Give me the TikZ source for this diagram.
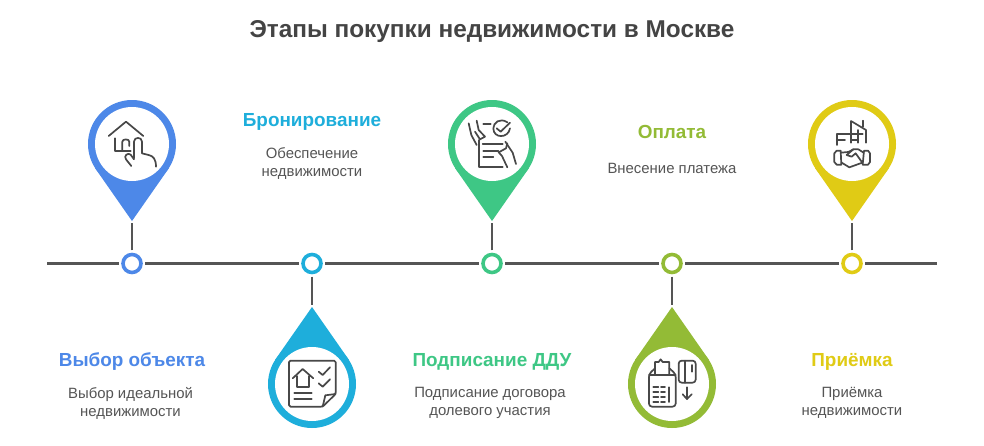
\documentclass[tikz,border=0pt]{standalone}
\usepackage{fontspec}
\setmainfont{Liberation Sans}
\definecolor{cblue}{HTML}{4D88E8}
\definecolor{ccyan}{HTML}{1EAEDB}
\definecolor{cgreen}{HTML}{3EC785}
\definecolor{colive}{HTML}{93BB36}
\definecolor{cyell}{HTML}{E0CB15}
\definecolor{cline}{HTML}{555555}
\definecolor{cicon}{HTML}{484848}
\definecolor{ctext}{HTML}{555555}
\definecolor{ctitle}{HTML}{444444}
\tikzset{
  dotmark/.style={circle,draw=#1,fill=white,line width=3.6pt,minimum size=18pt,inner sep=0pt,outer sep=4.2pt},
  axis/.style={draw=cline,line width=2.1pt},
  stem/.style={draw=cline,line width=2.1pt},
  head/.style={text=#1,font=\fontsize{18.9}{22}\selectfont\bfseries,inner sep=0pt,anchor=center},
  body/.style={text=ctext,font=\fontsize{14.9}{18}\selectfont,inner sep=0pt,align=center,anchor=center},
  icon/.style={draw=cicon,line width=1.7pt,line cap=round,line join=round,fill=none},
}
% pin: #1 name, #2 centre x, #3 centre y, #4 tip y, #5 sign, #6 colour
\newcommand{\mypin}[6]{%
  \fill[#6] (#2,#4) -- (#2-37,#3+#5*24) -- (#2+37,#3+#5*24) -- cycle;
  \fill[#6] (#2,#3) circle[radius=44pt];
  \fill[white] (#2,#3) circle[radius=37pt];
  \coordinate (#1) at (#2,#4+#5*2);
}
\begin{document}
\begin{tikzpicture}[x=1pt,y=-1pt]
\useasboundingbox (0,0) rectangle (984,445);
\fill[white] (0,0) rectangle (984,445);
\node[text=ctitle,font=\fontsize{24.35}{28}\selectfont\bfseries,inner sep=0pt] (title) at (492,32) {Этапы покупки недвижимости в Москве};

\coordinate (start) at (47,263.5);
\coordinate (end) at (937,263.5);
\node[dotmark=cblue] (d1) at (132,263.5) {};
\node[dotmark=ccyan] (d2) at (312,263.5) {};
\node[dotmark=cgreen] (d3) at (492,263.5) {};
\node[dotmark=colive] (d4) at (672,263.5) {};
\node[dotmark=cyell] (d5) at (852,263.5) {};
\draw[axis] (start) -- (d1);
\draw[axis] (d1) -- (d2);
\draw[axis] (d2) -- (d3);
\draw[axis] (d3) -- (d4);
\draw[axis] (d4) -- (d5);
\draw[axis] (d5) -- (end);

\mypin{p1}{132}{144}{221}{1}{cblue}
\mypin{p2}{312}{384}{307}{-1}{ccyan}
\mypin{p3}{492}{144}{221}{1}{cgreen}
\mypin{p4}{672}{384}{307}{-1}{colive}
\mypin{p5}{852}{144}{221}{1}{cyell}
\draw[stem] (d1) -- (p1);
\draw[stem] (d2) -- (p2);
\draw[stem] (d3) -- (p3);
\draw[stem] (d4) -- (p4);
\draw[stem] (d5) -- (p5);

\node[head=cblue] (h1) at (132,362) {Выбор объекта};
\node[body] (b1) at (130.5,403) {Выбор идеальной\\недвижимости};
\node[head=ccyan] (h2) at (312,122) {Бронирование};
\node[body] (b2) at (312,163.5) {Обеспечение\\недвижимости};
\node[head=cgreen] (h3) at (492,362) {Подписание ДДУ};
\node[body] (b3) at (490,403) {Подписание договора\\долевого участия};
\node[head=colive] (h4) at (672,132) {Оплата};
\node[body] (b4) at (672,168) {Внесение платежа};
\node[head=cyell] (h5) at (852,362) {Приёмка};
\node[body] (b5) at (852,403) {Приёмка\\недвижимости};

% icon 1
\begin{scope}[shift={(70,90)},x=0.3333pt,y=-0.3333pt]
\draw[icon] (116,138) -- (168,95) -- (220,138);
\draw[icon] (136,145) -- (136,182) -- (182,182);
\draw[icon] (157,182) -- (157,155) .. controls (157,146) and (178,146) .. (178,155) -- (178,168);
\draw[icon] (192,205) -- (192,155) .. controls (192,140) and (216,140) .. (216,155) -- (216,190) -- (236,195) .. controls (250,198) and (258,208) .. (258,230);
\draw[icon] (192,208) -- (182,194) .. controls (174,186) and (160,198) .. (168,208) -- (184,228);
\end{scope}
% icon 2
\begin{scope}[shift={(250,250)},x=0.3333pt,y=-0.3333pt]
\draw[icon,rounded corners=1.5pt] (117,332) -- (257,332) -- (257,432) -- (218,470) -- (117,470) -- cycle;
\draw[icon] (257,432) -- (226,436) -- (218,470);
\draw[icon] (128,385) -- (158,357) -- (190,385);
\draw[icon] (140,378) -- (140,410) -- (176,410) -- (176,378);
\draw[icon] (133,428) -- (185,428);
\draw[icon] (133,447) -- (185,447);
\draw[icon] (206,365) -- (218,375) -- (240,352);
\draw[icon] (206,400) -- (218,410) -- (240,388);
\end{scope}
% icon 3
\begin{scope}[shift={(430,90)},x=0.3333pt,y=-0.3333pt]
\draw[icon] (232,97) .. controls (210,82) and (190,98) .. (190,115) .. controls (190,146) and (235,146) .. (240,115);
\draw[icon] (200,115) -- (212,125) -- (240,98);
\draw[icon] (160,103) -- (182,103);
\draw[icon] (116,100) -- (124,135) -- (140,165);
\draw[icon] (140,92) -- (146,120) -- (165,140) -- (150,148) -- (135,125);
\draw[icon] (148,150) -- (148,230) -- (218,230);
\draw[icon] (158,163) -- (218,163);
\draw[icon] (160,182) -- (205,182);
\draw[icon] (160,200) -- (190,200);
\draw[icon] (226,155) -- (248,188) -- (258,222);
\draw[icon] (232,160) -- (228,175) -- (206,187) -- (216,198) -- (232,232);
\end{scope}
% icon 4
\begin{scope}[shift={(610,250)},x=0.3333pt,y=-0.3333pt]
\draw[icon,rounded corners=3pt] (135,355) -- (117,372) -- (117,470) -- (197,470) -- (197,372) -- (178,355);
\draw[icon] (117,375) -- (197,375);
\draw[icon] (135,372) -- (135,336) -- (146,336) -- (152,328) -- (158,336) -- (166,336) -- (178,336) -- (178,372);
\draw[icon] (130,412) -- (145,412) (153,412) -- (165,412);
\draw[icon] (130,427) -- (145,427) (153,427) -- (165,427);
\draw[icon] (130,442) -- (145,442) (153,442) -- (165,442);
\draw[icon] (130,456) -- (145,456) (153,456) -- (165,456);
\draw[icon] (177,412) -- (177,456);
\draw[icon,rounded corners=3pt] (206,332) rectangle (257,398);
\draw[icon] (226,332) -- (226,398);
\draw[icon] (245,345) -- (245,365);
\draw[icon] (231,412) -- (231,447);
\draw[icon] (218,433) -- (231,447) -- (245,433);
\end{scope}
% icon 5
\begin{scope}[shift={(790,90)},x=0.3333pt,y=-0.3333pt]
\draw[icon] (183,130) -- (183,93) -- (228,120) -- (228,158);
\draw[icon] (220,92) -- (220,110);
\draw[icon] (140,165) -- (140,132) -- (180,132);
\draw[icon] (140,150) -- (165,150);
\draw[icon] (183,132) -- (218,132);
\draw[icon] (183,132) -- (183,158);
\draw[icon] (183,150) -- (205,150);
\draw[icon] (205,120) -- (205,158);
\draw[icon] (152,182) -- (140,182) -- (133,190) -- (133,216) -- (140,224) -- (154,224) -- cycle;
\draw[icon] (222,182) -- (234,182) -- (240,190) -- (240,216) -- (234,224) -- (218,224) -- cycle;
\draw[icon] (153,188) -- (175,186) -- (190,178) -- (205,178) -- (221,188);
\draw[icon] (155,218) -- (178,232) -- (217,218);
\draw[icon] (190,178) -- (170,195) -- (185,200) -- (197,190) -- (217,218);
\end{scope}
\end{tikzpicture}
\end{document}
